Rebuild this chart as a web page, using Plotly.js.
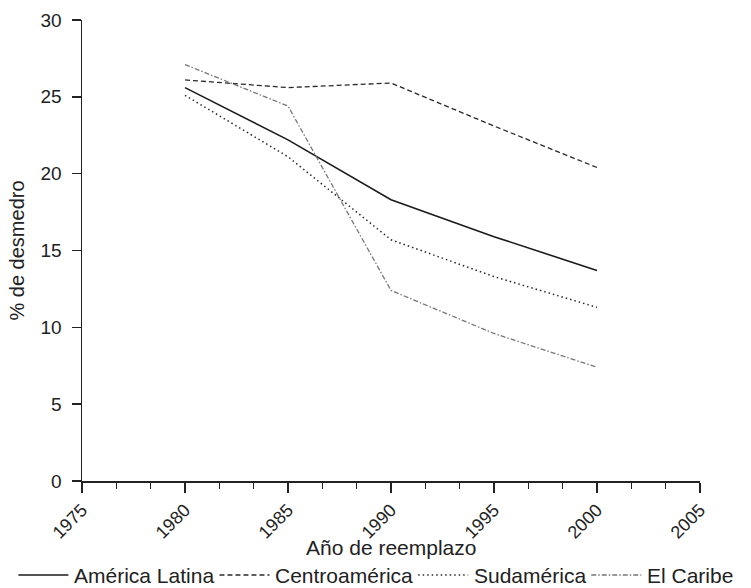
<!DOCTYPE html>
<html>
<head>
<meta charset="utf-8">
<script src="https://cdn.plot.ly/plotly-3.0.1.min.js"></script>
<style>html,body{margin:0;padding:0;background:#fff;}#chart{width:751px;height:588px;}</style>
</head>
<body>
<div id="chart"></div>
<script>
const years = [1980, 1985, 1990, 1995, 2000];
const americaLatina = [25.6, 22.2, 18.3, 15.9, 13.7];
const centroamerica = [26.1, 25.6, 25.9, 23.1, 20.4];
const sudamerica = [25.1, 21.1, 15.7, 13.3, 11.3];
const elCaribe = [27.1, 24.4, 12.4, 9.6, 7.4];
const seriesNames = ['América Latina', 'Centroamérica', 'Sudamérica', 'El Caribe'];
const xTickVals = [1975, 1980, 1985, 1990, 1995, 2000, 2005];
const yTickVals = [0, 5, 10, 15, 20, 25, 30];
const xTitle = 'Año de reemplazo';
const yTitle = '% de desmedro';

const font = 'Liberation Sans, Arial, sans-serif';
const lineStyles = [
  {color: '#1a1a1a', width: 1.6, dash: 'solid'},
  {color: '#2a2a2a', width: 1.3, dash: '5px,3px'},
  {color: '#2a2a2a', width: 1.5, dash: '1.5px,3px'},
  {color: '#777777', width: 1.3, dash: '5px,2px,1.5px,2px'}
];
const seriesValues = [americaLatina, centroamerica, sudamerica, elCaribe];
const traces = seriesNames.map((n, i) => ({
  x: years, y: seriesValues[i], name: n, mode: 'lines', line: lineStyles[i], showlegend: false
}));

// Layout geometry
const W = 751, H = 588, mL = 82, mR = 51, mT = 20, mB = 107;
const pw = W - mL - mR, ph = H - mT - mB;
const toPX = px => (px - mL) / pw;
const toPY = py => (H - mB - py) / ph;

// Custom legend (long line samples as in the reference)
const legendFontSize = 21;
const sampleLen = 50, gapBefore = 5, gapAfter = 6;
const ctx = document.createElement('canvas').getContext('2d');
ctx.font = legendFontSize + 'px "Liberation Sans", Arial, sans-serif';
const widths = seriesNames.map(n => ctx.measureText(n).width);
const total = widths.reduce((a, b) => a + b, 0) + seriesNames.length * (sampleLen + gapBefore) + (seriesNames.length - 1) * gapAfter;
const shapes = [], annotations = [];
const lineY = toPY(575), textY = toPY(575);
let cur = (W - total) / 2;
seriesNames.forEach((n, i) => {
  const x0 = cur, x1 = cur + sampleLen;
  shapes.push({type: 'line', xref: 'paper', yref: 'paper', x0: toPX(x0), x1: toPX(x1), y0: lineY, y1: lineY, line: lineStyles[i]});
  const tx = x1 + gapBefore;
  annotations.push({xref: 'paper', yref: 'paper', x: toPX(tx), y: textY, xanchor: 'left', yanchor: 'middle', text: n, showarrow: false, borderpad: 0, font: {size: legendFontSize, color: '#222'}});
  cur = tx + widths[i] + gapAfter;
});
annotations.push({xref: 'paper', yref: 'paper', x: 0.5, y: toPY(547), xanchor: 'center', yanchor: 'middle', text: xTitle, showarrow: false, borderpad: 0, font: {size: 21, color: '#222'}});

const layout = {
  width: W, height: H,
  margin: {l: mL, r: mR, t: mT, b: mB},
  paper_bgcolor: '#fff', plot_bgcolor: '#fff',
  font: {family: font, color: '#222', size: 18},
  showlegend: false,
  shapes: shapes,
  annotations: annotations,
  xaxis: {
    range: [1975, 2005], tickmode: 'array', tickvals: xTickVals, ticktext: xTickVals.map(String),
    tickangle: -45, ticks: 'outside', ticklen: 10, tickwidth: 1.5, tickcolor: '#222',
    showline: true, linecolor: '#222', linewidth: 1.5, showgrid: false, zeroline: false,
    tickfont: {size: 18, color: '#222'},
    minor: {ticks: 'outside', tick0: 1975, dtick: 5/3, ticklen: 6, tickwidth: 1.3, tickcolor: '#222', showgrid: false}
  },
  yaxis: {
    range: [0, 30], tickmode: 'array', tickvals: yTickVals, ticktext: yTickVals.map(String),
    ticks: 'outside', ticklen: 9, tickwidth: 1.5, tickcolor: '#222', ticklabelstandoff: 6,
    showline: true, linecolor: '#222', linewidth: 1.5, showgrid: false, zeroline: false,
    tickfont: {size: 19, color: '#222'},
    title: {text: yTitle, font: {size: 20, color: '#222'}, standoff: 10}
  }
};

Plotly.newPlot('chart', traces, layout, {displayModeBar: false, staticPlot: true});
</script>
</body>
</html>
